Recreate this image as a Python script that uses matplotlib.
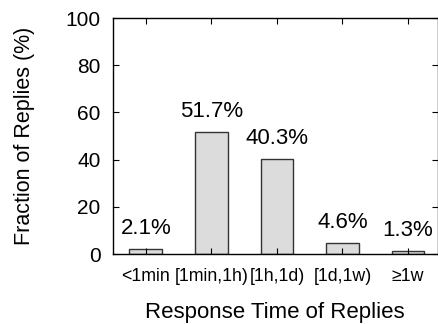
import matplotlib
matplotlib.use("Agg")
import matplotlib.pyplot as plt

categories = ["<1min", "[1min,1h)", "[1h,1d)", "[1d,1w)", "≥1w"]
values = [2.1, 51.7, 40.3, 4.6, 1.3]
labels = ["2.1%", "51.7%", "40.3%", "4.6%", "1.3%"]
yticks = [0, 20, 40, 60, 80, 100]

plt.rcParams['font.family'] = ['Liberation Sans', 'DejaVu Sans']

fig = plt.figure(figsize=(4.38, 3.24), dpi=100)
ax = fig.add_axes([113/438, 1 - 254/324, (437.5 - 113)/438, (254 - 18)/324])

x = list(range(len(categories)))
ax.bar(x, values, width=0.5, color="#dcdcdc", edgecolor="#333333", linewidth=1.0)
for xi, v, lab in zip(x, values, labels):
    ax.annotate(lab, (xi, v), xytext=(0, 7), textcoords="offset points",
                ha="center", va="bottom", fontsize=16)

ax.set_xlim(-0.5, 4.45)
ax.set_ylim(0, 100)
ax.set_yticks(yticks)
ax.set_xticks(x)
ax.set_xticklabels(categories, fontsize=12.8)
ax.tick_params(axis='y', labelsize=15, pad=9)
ax.tick_params(axis='x', pad=10)
ax.tick_params(direction='in', top=True, right=True, length=4, width=0.8)
for s in ax.spines.values():
    s.set_linewidth(1.0)
ax.set_xlabel("Response Time of Replies", fontsize=16, labelpad=12)
ax.set_ylabel("Fraction of Replies (%)", fontsize=15.5, labelpad=22)

fig.savefig("out.png", dpi=100)
